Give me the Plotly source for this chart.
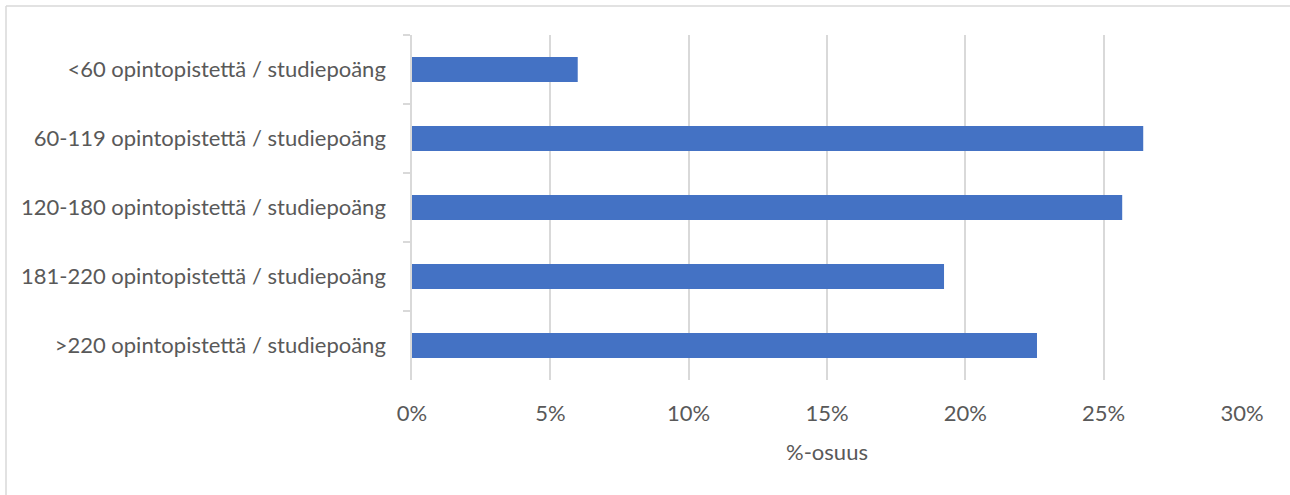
import plotly.graph_objects as go

categories = [
    "<60 opintopistettä / studiepoäng",
    "60-119 opintopistettä / studiepoäng",
    "120-180 opintopistettä / studiepoäng",
    "181-220 opintopistettä / studiepoäng",
    ">220 opintopistettä / studiepoäng",
]
shares = [0.0599, 0.2643, 0.2567, 0.1923, 0.2259]
x_tick_vals = [0, 0.05, 0.10, 0.15, 0.20, 0.25, 0.30]
x_tick_text = ["0%", "5%", "10%", "15%", "20%", "25%", "30%"]
x_title = "%-osuus"

TEXT = "#595959"
GRID = "#d9d9d9"
FONT = "Lato"
FS = 22

fig = go.Figure(
    go.Bar(
        y=categories,
        x=shares,
        orientation="h",
        marker=dict(color="#4472C4", line=dict(width=0)),
        hoverinfo="x+y",
    )
)

W, H = 1290, 495
L, R, T, B = 412, 48, 35, 115
fig.update_layout(
    width=W,
    height=H,
    margin=dict(l=L, r=R, t=T, b=B),
    paper_bgcolor="white",
    plot_bgcolor="white",
    bargap=0.64,
    showlegend=False,
    font=dict(family=FONT, color=TEXT, size=FS),
)
fig.update_xaxes(
    range=[0, 0.30],
    tickvals=x_tick_vals,
    ticktext=x_tick_text,
    showgrid=True,
    gridcolor=GRID,
    gridwidth=1.5,
    zeroline=False,
    showline=False,
    ticks="",
    ticklabelstandoff=18,
    tickfont=dict(size=FS, color=TEXT),
    title=dict(text=x_title, font=dict(size=FS, color=TEXT), standoff=19),
    fixedrange=True,
)
fig.update_yaxes(
    autorange="reversed",
    tickson="boundaries",
    ticks="outside",
    ticklen=7,
    tickcolor=GRID,
    tickwidth=1.5,
    showline=True,
    linecolor=GRID,
    linewidth=1.5,
    showgrid=False,
    ticklabelstandoff=20,
    tickfont=dict(size=FS, color=TEXT),
    fixedrange=True,
)

# outer chart border (Excel chart area frame)
pw = W - L - R
ph = H - T - B
x0 = (6 - L) / pw
y0 = (H - B - 6) / ph
fig.add_shape(type="line", xref="paper", yref="paper", x0=x0, x1=1.2, y0=y0, y1=y0,
              line=dict(color=GRID, width=1.5), layer="below")
fig.add_shape(type="line", xref="paper", yref="paper", x0=x0, x1=x0, y0=y0, y1=-0.5,
              line=dict(color=GRID, width=1.5), layer="below")

fig.write_html(
    "out.html",
    config={"displayModeBar": False},
    post_script="document.body.style.margin='0px';document.body.style.padding='0px';",
)
